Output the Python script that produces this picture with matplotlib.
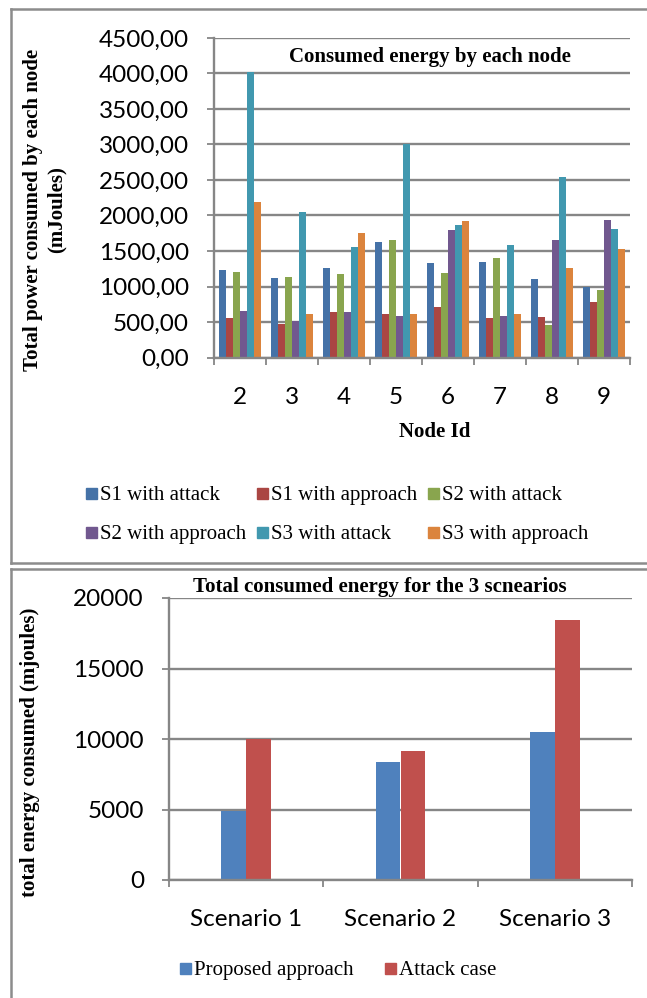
import matplotlib
matplotlib.use("Agg")
import matplotlib.pyplot as plt
import numpy as np
from matplotlib.patches import Rectangle
from matplotlib.lines import Line2D

# ---- per-node data ----
node_ids = ["2", "3", "4", "5", "6", "7", "8", "9"]
series_names = ["S1 with attack", "S1 with approach", "S2 with attack",
                "S2 with approach", "S3 with attack", "S3 with approach"]
s1_attack = [1230, 1118, 1259, 1632, 1330, 1344, 1108, 995]
s1_approach = [557, 476, 637, 618, 708, 561, 571, 778]
s2_attack = [1208, 1137, 1179, 1656, 1189, 1406, 453, 948]
s2_approach = [656, 509, 642, 585, 1802, 590, 1651, 1943]
s3_attack = [4020, 2047, 1557, 3005, 1873, 1590, 2540, 1816]
s3_approach = [2184, 613, 1750, 613, 1925, 613, 1255, 1533]
node_series = [s1_attack, s1_approach, s2_attack, s2_approach, s3_attack, s3_approach]
node_colors = ["#4572A7", "#AA4643", "#89A54E", "#71588F", "#4198AF", "#DB843D"]
node_yticks = [0, 500, 1000, 1500, 2000, 2500, 3000, 3500, 4000, 4500]

# ---- per-scenario totals ----
scenarios = ["Scenario 1", "Scenario 2", "Scenario 3"]
proposed = [4920, 8390, 10470]
attack = [10000, 9170, 18420]
total_names = ["Proposed approach", "Attack case"]
total_colors = ["#4F81BD", "#C0504D"]
total_yticks = [0, 5000, 10000, 15000, 20000]

W, H = 647, 998
fig = plt.figure(figsize=(W / 100, H / 100), dpi=100)
fig.patch.set_facecolor("white")

SERIF = ["Liberation Serif", "DejaVu Serif"]
SANS = ["Lato", "DejaVu Sans"]
GRID = "#868686"


def fx(px):
    return px / W


def fy(py):
    return 1 - py / H


def style_axes(ax):
    for s in ["top", "right"]:
        ax.spines[s].set_visible(False)
    for s in ["left", "bottom"]:
        ax.spines[s].set_color(GRID)
        ax.spines[s].set_linewidth(1.7)
    ax.yaxis.grid(True, color=GRID, linewidth=1.7)
    ax.set_axisbelow(True)
    ax.tick_params(axis="y", which="major", length=5, width=1.3, color=GRID,
                   pad=13, labelsize=17.5)
    ax.tick_params(axis="x", which="major", length=0, pad=21, labelsize=17.5)
    ax.tick_params(axis="x", which="minor", length=5, width=1.3, color=GRID)
    for lab in ax.get_xticklabels() + ax.get_yticklabels():
        lab.set_fontfamily(SANS)


def legend_entry(lx, ly, name, col):
    fig.add_artist(Rectangle((fx(lx), fy(ly + 6)), fx(11), 11 / H, color=col,
                             transform=fig.transFigure))
    fig.text(fx(lx + 14), fy(ly + 7), name, ha="left", va="baseline",
             fontsize=15, family=SERIF)


# ---- frames ----
frame_kw = dict(color="#8c8c8c", linewidth=1.8, transform=fig.transFigure)
fig.add_artist(Line2D([fx(11), fx(11)], [fy(9), fy(563)], **frame_kw))
fig.add_artist(Line2D([fx(11), 1], [fy(9), fy(9)], **frame_kw))
fig.add_artist(Line2D([fx(11), 1], [fy(563), fy(563)], **frame_kw))
fig.add_artist(Line2D([fx(11), 1], [fy(569), fy(569)], **frame_kw))
fig.add_artist(Line2D([fx(11), fx(11)], [fy(569), 0], **frame_kw))

# ---- top chart ----
ax1 = fig.add_axes([fx(214), fy(357.5), fx(630) - fx(214), fy(38) - fy(357.5)])
x = np.arange(len(node_ids))
bw = 0.135
for i, (vals, col) in enumerate(zip(node_series, node_colors)):
    ax1.bar(x + (i - 2.5) * bw, vals, width=bw, color=col, linewidth=0)
ax1.set_xlim(-0.5, len(node_ids) - 0.5)
ax1.set_ylim(0, 4500)
ax1.set_yticks(node_yticks)
ax1.set_yticklabels([f"{v:.2f}".replace(".", ",") for v in node_yticks])
ax1.set_xticks(x)
ax1.set_xticklabels(node_ids)
ax1.set_xticks(np.arange(-0.5, len(node_ids)), minor=True)
style_axes(ax1)

fig.text(fx(430), fy(57), "Consumed energy by each node", ha="center", va="center",
         fontsize=15, fontweight="bold", family=SERIF)
fig.text(fx(33), fy(210), "Total power consumed by each node", ha="center", va="center",
         rotation=90, fontsize=15, fontweight="bold", family=SERIF)
fig.text(fx(57), fy(210), "(mJoules)", ha="center", va="center",
         rotation=90, fontsize=15, fontweight="bold", family=SERIF)
fig.text(fx(435), fy(432), "Node Id", ha="center", va="center",
         fontsize=15, fontweight="bold", family=SERIF)

# legend for the top chart
leg_cols = [86, 257, 428]
leg_rows = [493, 532]
for i, (name, col) in enumerate(zip(series_names, node_colors)):
    legend_entry(leg_cols[i % 3], leg_rows[i // 3], name, col)

# ---- bottom chart ----
ax2 = fig.add_axes([fx(169), fy(880), fx(632) - fx(169), fy(598) - fy(880)])
xs = np.arange(len(scenarios))
bw2 = 0.16
ax2.bar(xs - bw2 / 2, proposed, width=bw2, color=total_colors[0], linewidth=0)
ax2.bar(xs + bw2 / 2, attack, width=bw2, color=total_colors[1], linewidth=0)
ax2.set_xlim(-0.5, len(scenarios) - 0.5)
ax2.set_ylim(0, 20000)
ax2.set_yticks(total_yticks)
ax2.set_yticklabels([str(v) for v in total_yticks])
ax2.set_xticks(xs)
ax2.set_xticklabels(scenarios)
ax2.set_xticks(np.arange(-0.5, len(scenarios)), minor=True)
style_axes(ax2)

fig.text(fx(380), fy(587), "Total consumed energy for the 3 scnearios", ha="center",
         va="center", fontsize=15, fontweight="bold", family=SERIF)
fig.text(fx(30), fy(752), "total energy consumed (mjoules)", ha="center", va="center",
         rotation=90, fontsize=15, fontweight="bold", family=SERIF)

leg2_x = [180, 385]
for name, col, lx in zip(total_names, total_colors, leg2_x):
    legend_entry(lx, 968, name, col)

fig.savefig("out.png", dpi=100, facecolor="white")
